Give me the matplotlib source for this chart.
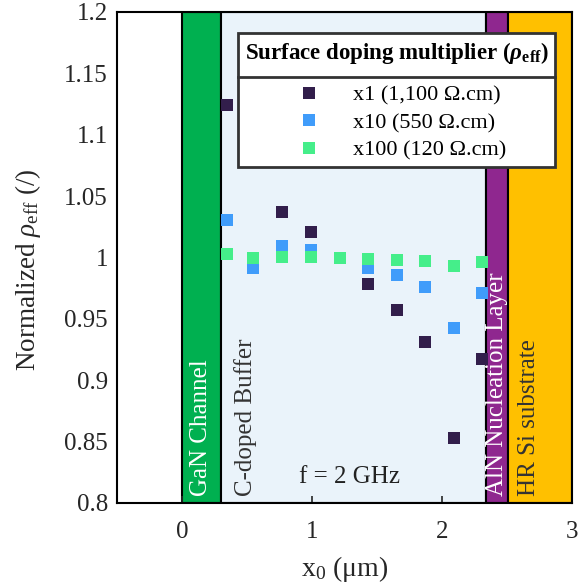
import numpy as np
import matplotlib
matplotlib.use("Agg")
import matplotlib.pyplot as plt
from matplotlib.lines import Line2D

plt.rcParams["font.family"] = "Liberation Serif"
plt.rcParams["mathtext.fontset"] = "custom"
plt.rcParams["mathtext.rm"] = "Liberation Serif"
plt.rcParams["mathtext.it"] = "Liberation Serif:italic"
plt.rcParams["mathtext.bf"] = "Liberation Serif:bold"
plt.rcParams["mathtext.bfit"] = "Liberation Serif:bold:italic"

# data
x0 = [0.344, 0.550, 0.773, 0.989, 1.212, 1.428, 1.651, 1.867, 2.091, 2.306]
rho_x1 = [1.1245, np.nan, 1.037, 1.0208, np.nan, 0.9784, 0.957, 0.931, 0.853, 0.9173]
rho_x10 = [1.0306, 0.9912, 1.0096, 1.0065, np.nan, 0.9912, 0.9857, 0.976, 0.9426, 0.971]
rho_x100 = [1.0029, 0.9996, 1.0007, 1.0007, 0.9996, 0.9988, 0.998, 0.997, 0.993, 0.9963]
labels = ["x1 (1,100 Ω.cm)", "x10 (550 Ω.cm)", "x100 (120 Ω.cm)"]
colors = ["#321E4B", "#409CFA", "#45EE8A"]

# layer stack: start, end, fill, label, label colour, label x
layers = [
    (0.0, 0.30, "#00B050", "GaN Channel", "white", 0.15),
    (0.30, 2.34, "#EAF3FA", "C-doped Buffer", "#333333", 0.49),
    (2.34, 2.51, "#8F278F", "AlN Nucleation Layer", "white", 2.425),
    (2.51, 3.0, "#FFC000", "HR Si substrate", "#333333", 2.67),
]

fig = plt.figure(figsize=(5.87, 5.84), dpi=100)
ax = fig.add_axes([0.1993, 0.1387, 0.7751, 0.8408])

for start, end, fc, name, tc, xt in layers:
    ax.axvspan(start, end, facecolor=fc, edgecolor="black", lw=1.5, zorder=0)
    ax.text(xt, 0.8055, name, rotation=90, ha="center", va="bottom",
            color=tc, fontsize=18, zorder=1)

ax.text(1.29, 0.8163, "f = 2 GHz", ha="center", va="baseline", fontsize=18, color="#222222")

for ys, c, lab in zip([rho_x1, rho_x10, rho_x100], colors, labels):
    ax.plot(x0, ys, "s", color=c, ms=8.6, mew=0, label=lab, zorder=3)

ax.set_xlim(-0.5, 3)
ax.set_ylim(0.8, 1.2)
ax.set_xticks([0, 1, 2, 3])
ax.set_yticks([0.8, 0.85, 0.9, 0.95, 1, 1.05, 1.1, 1.15, 1.2])
ax.set_yticklabels(["0.8", "0.85", "0.9", "0.95", "1", "1.05", "1.1", "1.15", "1.2"])
ax.tick_params(axis="x", direction="in", length=5, width=1.2, labelsize=18,
               colors="#262626", pad=13)
ax.tick_params(axis="y", length=0, labelsize=18, colors="#262626", pad=6.5)
for sp in ax.spines.values():
    sp.set_linewidth(1.5)
    sp.set_color("black")
    sp.set_zorder(5)

ax.set_xlabel("x$_0$ (μm)", fontsize=20, color="#262626", labelpad=8)
ax.set_ylabel(r"Normalized $\rho_{\mathrm{eff}}$ (/)", fontsize=19.5, color="#262626")
ax.yaxis.set_label_coords(-0.162, 0.475)

leg = ax.legend(loc="upper right", bbox_to_anchor=(0.9626, 0.9572), borderaxespad=0,
                title=r"Surface doping multiplier ($\mathbfit{\rho}_{\mathbf{eff}}$)",
                title_fontproperties={"weight": "bold", "size": 16.5},
                fontsize=16, frameon=True, fancybox=False, framealpha=1,
                edgecolor="#333333", handletextpad=0.95, labelspacing=0.31,
                borderpad=0.3)
leg.get_frame().set_linewidth(2)
leg.set_zorder(10)
leg._legend_box.sep = 14

# separator line under the legend title
fig.canvas.draw()
r = fig.canvas.get_renderer()
fb = leg.get_frame().get_window_extent(r)
hb = leg._legend_handle_box.get_window_extent(r)
ysep = hb.y1 + 8
sep = Line2D([fb.x0, fb.x1], [ysep, ysep], transform=None, color="#333333", lw=2, zorder=11)
fig.add_artist(sep)

fig.savefig("out.png", dpi=100)
